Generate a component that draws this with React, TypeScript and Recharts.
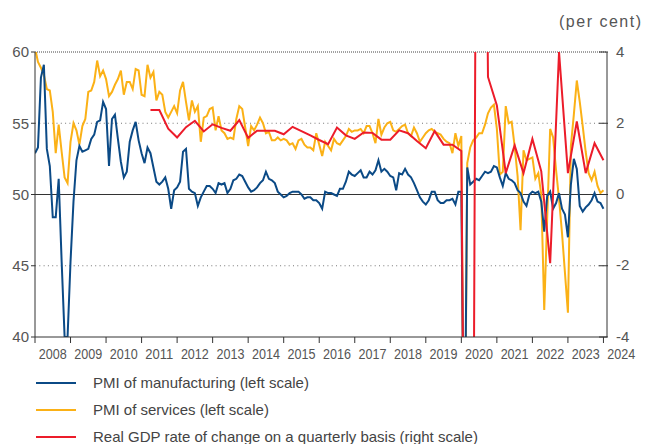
import { LineChart, Line, XAxis, YAxis, ReferenceLine, Legend } from 'recharts'

const X_MIN = 2008
const X_MAX = 2024.1
const yearTicks = [
  2008, 2009, 2010, 2011, 2012, 2013, 2014, 2015, 2016, 2017, 2018, 2019, 2020,
  2021, 2022, 2023, 2024,
]
const leftTicks = [40, 45, 50, 55, 60]
const rightTicks = [-4, -2, 0, 2, 4]

// monthly PMI, first reading sits on the 2008 gridline
const manufacturing = [
  52.9, 53.3, 58.2, 59.1, 53.2, 52.0, 48.4, 48.4, 51.1, 45.3, 40.0, 40.0,
  45.3, 49.5, 52.4, 53.4, 53.0, 53.1, 53.2, 53.9, 54.2, 55.1, 55.2, 56.5,
  56.0, 52.0, 55.3, 55.6, 53.9, 52.3, 51.2, 51.6, 53.7, 54.5, 55.1, 53.8,
  52.9, 52.2, 53.3, 52.9, 51.9, 50.9, 50.7, 50.9, 51.2, 50.4, 49.0, 50.3,
  50.5, 50.9, 53.0, 53.2, 50.4, 50.2, 50.1, 49.2, 49.8, 50.2, 50.6, 50.6,
  50.4, 50.1, 50.8, 50.7, 50.8, 50.1, 50.4, 51.0, 51.1, 51.4, 51.3, 50.9,
  50.5, 50.2, 50.3, 50.5, 50.8, 51.0, 51.6, 51.1, 51.0, 50.8, 50.2, 50.0,
  49.8, 49.9, 50.1, 50.2, 50.2, 50.2, 50.0, 49.7, 49.8, 49.8, 49.6, 49.6,
  49.4, 49.0, 50.2, 50.1, 50.1, 50.0, 49.9, 50.4, 50.4, 50.9, 51.6, 51.4,
  51.3, 51.5, 51.7, 51.2, 51.2, 51.6, 51.4, 51.7, 52.4, 51.6, 51.8, 51.6,
  51.3, 51.2, 50.3, 51.5, 51.4, 51.8, 51.4, 51.2, 50.8, 50.3, 49.8, 49.5,
  49.3, 49.6, 50.2, 50.2, 49.6, 49.4, 49.4, 49.6, 49.6, 49.7, 49.3, 50.2,
  50.2, 28.0, 51.9, 50.7, 50.9, 51.1, 51.0, 51.3, 51.6, 51.5, 51.6, 52.0,
  51.9, 51.2, 50.6, 51.5, 51.1, 51.0, 50.8, 50.3, 50.1, 49.5, 49.2, 50.0,
  50.2, 50.1, 50.2, 49.5, 47.4, 49.9, 50.2, 49.0, 49.4, 50.1, 49.0, 48.6,
  47.0, 50.7, 52.5, 51.8, 49.2, 48.8, 49.1, 49.3, 49.6, 50.1, 49.5, 49.4,
  49.0,
]

const services = [
  60.3, 59.3, 58.9, 58.4, 57.4, 57.3, 55.8, 52.9, 54.9, 53.0, 51.2, 50.8,
  53.7, 55.0, 54.5, 53.5, 54.8, 55.3, 57.2, 57.3, 57.9, 59.4, 58.3, 58.7,
  58.1, 56.9, 57.2, 57.7, 58.1, 58.7, 57.0, 57.9, 57.9, 57.4, 58.8, 58.7,
  57.0, 56.9, 59.1, 58.2, 58.6, 56.6, 57.2, 57.0, 55.8, 55.4, 55.8, 56.2,
  55.7, 57.3, 57.9, 56.5, 55.2, 56.6, 55.8, 56.2, 53.7, 55.4, 55.5, 56.0,
  56.1, 54.5, 55.5, 54.5, 54.3, 53.9, 54.0, 53.9, 55.3, 56.2, 56.0, 54.7,
  53.4, 54.8, 54.5, 54.9, 55.4, 55.0, 54.3, 54.4, 53.8, 53.8, 54.0, 53.8,
  53.9, 53.8, 53.5, 53.6, 53.2, 53.8, 53.9, 53.5, 53.3, 53.3, 53.1, 54.3,
  53.5, 52.7, 53.7, 53.4, 53.1, 53.9, 53.6, 53.5, 53.8, 54.1, 54.6, 54.4,
  54.5, 54.5, 54.6, 54.3, 54.8, 54.8, 54.3, 53.6, 55.3, 54.2, 54.7, 55.0,
  55.1, 54.5, 54.4, 54.6, 54.8, 54.9, 54.3, 54.1, 54.7, 54.3, 53.7, 54.0,
  54.3, 54.5, 54.6, 54.4, 54.3, 54.2, 53.9, 53.7, 53.6, 52.9, 54.3, 53.4,
  54.1, 25.0, 52.2, 53.3, 53.8, 54.0, 54.3, 54.3, 54.9, 55.7, 56.1, 56.3,
  54.6, 51.4, 51.6, 56.2, 55.0, 55.1, 53.4, 51.3, 47.5, 53.1, 52.4, 52.5,
  52.6, 51.1, 51.5, 50.0, 41.9, 48.3, 54.6, 54.0, 51.7, 49.7, 47.3, 44.5,
  41.7, 53.4, 55.6, 58.0, 56.5, 54.8, 53.0, 51.5, 51.0, 51.6, 50.6, 50.1,
  50.3,
]

// quarterly real GDP change (%), plotted at quarter end, 2011 Q1 .. 2023 Q4
const GDP_START = 39
const gdp = [
  2.37, 2.37, 1.85, 1.6, 1.89, 2.07, 1.77, 1.97, 1.87, 1.79, 2.09, 1.59,
  1.79, 1.79, 1.79, 1.69, 1.9, 1.78, 1.66, 1.53, 1.41, 1.88, 1.66, 1.56,
  1.74, 1.73, 1.54, 1.54, 1.8, 1.72, 1.5, 1.3, 1.78, 1.4, 1.4, 1.22,
  -30, 30, 3.3, 2.5, 0.6, 1.38, 0.6, 1.56, 0.65, -1.93, 4.0, 0.6,
  2.05, 0.6, 1.44, 0.96,
]

const series = [
  { key: 'mfg', name: 'PMI of manufacturing (left scale)', color: '#0b4a86' },
  { key: 'svc', name: 'PMI of services (left scale)', color: '#fbb116' },
  { key: 'gdp', name: 'Real GDP rate of change on a quarterly basis (right scale)', color: '#ec1c2a' },
]

const rows = manufacturing.map((v, i) => ({
  t: X_MIN + i / 12,
  mfg: v,
  svc: services[i],
  gdp:
    i >= GDP_START && (i - GDP_START) % 3 === 0 ? gdp[(i - GDP_START) / 3] : null,
}))

const W = 645
const H = 444
const LEFT_W = 35
const RIGHT_W = 38
const PLOT_W = W - LEFT_W - RIGHT_W
const HALF_YEAR = PLOT_W / (X_MAX - X_MIN) / 2
const FONT = "'Liberation Sans', Arial, sans-serif"
const TEXT = '#555'
const AXIS = '#333'

function YearTick({ x, y, payload }: any) {
  return (
    <text
      x={x + HALF_YEAR}
      y={y}
      dy={16}
      textAnchor="middle"
      fontSize={15}
      fill={TEXT}
      fontFamily={FONT}
      textLength={28}
      lengthAdjust="spacingAndGlyphs"
    >
      {payload.value}
    </text>
  )
}

function RightTick({ x, y, payload }: any) {
  return (
    <g>
      <line x1={x - 8} x2={x + 1} y1={y} y2={y} stroke={AXIS} />
      <text x={x + 9} y={y} dy="0.3em" fontSize={15} fill={TEXT} fontFamily={FONT}>
        {payload.value}
      </text>
    </g>
  )
}

function LegendBox() {
  return (
    <div style={{ fontFamily: FONT, fontSize: 15, color: '#444' }}>
      {series.map((s) => (
        <div
          key={s.key}
          style={{ height: 27, lineHeight: '27px', display: 'flex', alignItems: 'center' }}
        >
          <span
            style={{
              display: 'inline-block',
              width: 40,
              height: 2,
              marginLeft: 36,
              marginRight: 17,
              background: s.color,
            }}
          />
          <span>{s.name}</span>
        </div>
      ))}
    </div>
  )
}

export default function App() {
  return (
    <div style={{ position: 'relative', width: W, height: H, fontFamily: FONT }}>
      <style>{'body{margin:0}'}</style>
      <div
        style={{
          position: 'absolute',
          left: 559,
          top: 14,
          fontSize: 16,
          lineHeight: '16px',
          letterSpacing: 1.5,
          color: TEXT,
          whiteSpace: 'nowrap',
        }}
      >
        (per cent)
      </div>
      <LineChart
        width={W}
        height={H}
        data={rows}
        margin={{ top: 52, right: 0, bottom: 77, left: 0 }}
      >
        <XAxis
          dataKey="t"
          type="number"
          domain={[X_MIN, X_MAX]}
          ticks={yearTicks}
          interval={0}
          allowDataOverflow
          height={30}
          stroke={AXIS}
          tickSize={6}
          tickMargin={0}
          tick={<YearTick />}
        />
        <YAxis
          yAxisId="l"
          domain={[40, 60]}
          ticks={leftTicks}
          interval={0}
          allowDataOverflow
          width={LEFT_W}
          stroke={AXIS}
          tickSize={4}
          tickMargin={2}
          tick={{ fontSize: 15, fill: TEXT, fontFamily: FONT }}
        />
        <YAxis
          yAxisId="r"
          orientation="right"
          domain={[-4, 4]}
          ticks={rightTicks}
          interval={0}
          allowDataOverflow
          width={RIGHT_W}
          stroke={AXIS}
          tickLine={false}
          tickSize={0}
          tickMargin={0}
          tick={<RightTick />}
        />
        <ReferenceLine yAxisId="l" y={60} stroke="#444" strokeDasharray="1 1" />
        <ReferenceLine yAxisId="l" y={55} stroke="#777" strokeDasharray="1 3.3" />
        <ReferenceLine yAxisId="l" y={45} stroke="#777" strokeDasharray="1 3.3" />
        <ReferenceLine yAxisId="l" y={50} stroke={AXIS} />
        <Line
          yAxisId="l"
          dataKey="svc"
          name={series[1].name}
          stroke={series[1].color}
          strokeWidth={2}
          dot={false}
          isAnimationActive={false}
        />
        <Line
          yAxisId="l"
          dataKey="mfg"
          name={series[0].name}
          stroke={series[0].color}
          strokeWidth={2}
          dot={false}
          isAnimationActive={false}
        />
        <Line
          yAxisId="r"
          dataKey="gdp"
          name={series[2].name}
          stroke={series[2].color}
          strokeWidth={2}
          dot={false}
          connectNulls
          isAnimationActive={false}
        />
        <Legend
          layout="vertical"
          verticalAlign="middle"
          align="center"
          wrapperStyle={{ left: 0, top: 369, width: W, height: 81 }}
          content={() => <LegendBox />}
        />
      </LineChart>
    </div>
  )
}
